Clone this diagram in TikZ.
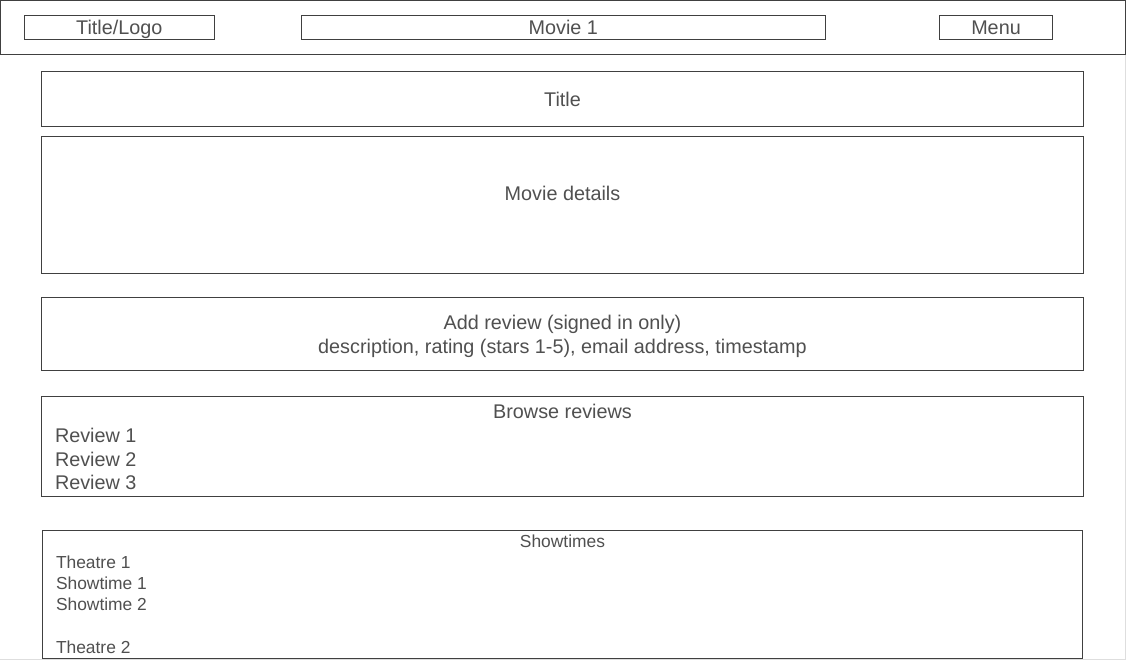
\documentclass[tikz,border=0pt]{standalone}
\usepackage{fontspec}
\setmainfont{Liberation Sans}
\definecolor{ln}{RGB}{64,64,64}
\definecolor{tx}{RGB}{80,80,80}
\definecolor{pg}{RGB}{222,222,222}
\begin{document}
\begin{tikzpicture}[x=1pt,y=-1pt,
  box/.style={draw=ln,line width=1pt,inner sep=0pt,outer sep=0pt,fill=white},
  lbl/.style={text=tx,font=\fontsize{19.8}{23}\selectfont,inner sep=0pt,anchor=base},
  lbw/.style={lbl,anchor=base west},
  sml/.style={text=tx,font=\fontsize{17.4}{21}\selectfont,inner sep=0pt,anchor=base},
  smw/.style={sml,anchor=base west}]
\useasboundingbox (0,0) rectangle (1126,660);
\fill[white] (0,0) rectangle (1126,660);
\draw[pg,line width=1pt] (0,659.5) -- (1125.5,659.5) -- (1125.5,55);
% header
\node[box,minimum width=1124.8,minimum height=54.5] (bar) at (562.9,27.75) {};
\node[box,minimum width=190,minimum height=24] (logo) at (119.3,27.3) {};
\node[box,minimum width=524,minimum height=24] (movie) at (563.3,27.3) {};
\node[box,minimum width=113.4,minimum height=24] (menu) at (996,27.3) {};
\node[lbl] (tlogo) at (119.3,34.5) {Title/Logo};
\node[lbl] (tmovie) at (563.3,34.5) {Movie 1};
\node[lbl] (tmenu) at (996,34.5) {Menu};
% sections
\node[box,minimum width=1042.4,minimum height=54.3] (title) at (562.5,99.15) {};
\node[lbl] (ttitle) at (562.5,106.5) {Title};
\node[box,minimum width=1042.4,minimum height=136.7] (details) at (562.5,204.65) {};
\node[lbl] (tdetails) at (562.5,200.5) {Movie details};
\node[box,minimum width=1042.4,minimum height=73] (add) at (562.5,333.8) {};
\node[lbl] (tadd1) at (562.5,329.5) {Add review (signed in only)};
\node[lbl] (tadd2) at (562.5,353.5) {description, rating (stars 1-5), email address, timestamp};
\node[box,minimum width=1042.4,minimum height=100] (browse) at (562.5,446.3) {};
\node[lbl] (tbrowse) at (562.5,418.3) {Browse reviews};
\node[lbw] (r1) at (54.8,442.5) {Review 1};
\node[lbw] (r2) at (54.8,466) {Review 2};
\node[lbw] (r3) at (54.8,489.5) {Review 3};
\node[box,minimum width=1040,minimum height=127.7] (show) at (562.3,594.15) {};
\node[sml] (tshow) at (562.5,547.3) {Showtimes};
\node[smw] (th1) at (55.8,568.3) {Theatre 1};
\node[smw] (st1) at (55.8,589.3) {Showtime 1};
\node[smw] (st2) at (55.8,610.3) {Showtime 2};
\node[smw] (th2) at (55.8,653.5) {Theatre 2};
\end{tikzpicture}
\end{document}
